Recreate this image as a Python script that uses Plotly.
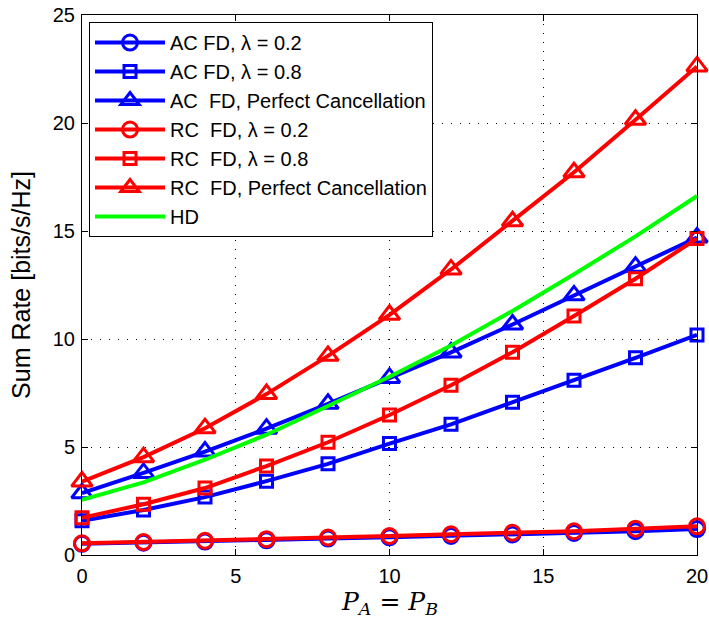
import plotly.graph_objects as go

# Transmit power (P_A = P_B)
power = [0, 2, 4, 6, 8, 10, 12, 14, 16, 18, 20]

# Sum rates [bits/s/Hz]
ac_fd_02 = [0.52, 0.57, 0.62, 0.68, 0.76, 0.82, 0.88, 0.95, 1.02, 1.10, 1.20]
ac_fd_08 = [1.58, 2.08, 2.68, 3.42, 4.22, 5.16, 6.05, 7.07, 8.09, 9.13, 10.19]
ac_fd_perfect = [2.86, 3.80, 4.79, 5.85, 7.00, 8.20, 9.38, 10.67, 12.02, 13.35, 14.70]
rc_fd_02 = [0.54, 0.60, 0.66, 0.73, 0.81, 0.88, 0.96, 1.03, 1.10, 1.22, 1.33]
rc_fd_08 = [1.72, 2.35, 3.10, 4.12, 5.22, 6.48, 7.86, 9.39, 11.06, 12.79, 14.65]
rc_fd_perfect = [3.40, 4.53, 5.87, 7.45, 9.22, 11.12, 13.22, 15.45, 17.72, 20.15, 22.62]
hd = [2.55, 3.36, 4.41, 5.57, 6.90, 8.25, 9.70, 11.30, 13.00, 14.75, 16.62]

xticks = [0, 5, 10, 15, 20]
yticks = [0, 5, 10, 15, 20, 25]

BLUE = "#0000FF"
RED = "#FF0000"
GREEN = "#00FF00"
FONT = "Liberation Sans, Arial, Helvetica, sans-serif"
SERIF = "DejaVu Serif, Liberation Serif, serif"

series = [
    ("AC FD, \u03bb = 0.2", ac_fd_02, BLUE, "circle-open", 15),
    ("AC FD, \u03bb = 0.8", ac_fd_08, BLUE, "square-open", 12),
    ("AC\u00a0 FD, Perfect Cancellation", ac_fd_perfect, BLUE, "triangle-up-open", 18),
    ("RC\u00a0 FD, \u03bb = 0.2", rc_fd_02, RED, "circle-open", 15),
    ("RC\u00a0 FD, \u03bb = 0.8", rc_fd_08, RED, "square-open", 12),
    ("RC\u00a0 FD, Perfect Cancellation", rc_fd_perfect, RED, "triangle-up-open", 18),
]

fig = go.Figure()
for name, vals, color, symbol, size in series:
    fig.add_trace(go.Scatter(
        x=power, y=vals, name=name, mode="lines+markers",
        line=dict(color=color, width=4),
        marker=dict(symbol=symbol, size=size, color=color,
                    line=dict(color=color, width=3)),
        cliponaxis=False,
    ))

fig.add_trace(go.Scatter(
    x=power, y=hd, name="HD", mode="lines",
    line=dict(color=GREEN, width=4),
    cliponaxis=False,
))

axis_common = dict(
    showline=True, linecolor="black", linewidth=1, mirror="ticks",
    ticks="inside", ticklen=6, tickcolor="black", tickwidth=1,
    showgrid=True, gridcolor="black", gridwidth=1, griddash="1px,8px",
    zeroline=False, automargin=False,
    tickfont=dict(family=FONT, size=20, color="black"),
)

fig.update_xaxes(
    range=[0, 20], tickvals=xticks, ticktext=[str(v) for v in xticks],
    ticklabelstandoff=3,
    **axis_common,
)
fig.update_yaxes(
    range=[0, 25], tickvals=yticks, ticktext=[str(v) for v in yticks],
    ticklabelstandoff=2,
    title=dict(
        text="Sum Rate [bits/s/Hz]",
        font=dict(family=FONT, size=25, color="black"),
    ),
    **axis_common,
)

# x-axis label set as a paper-anchored annotation below the tick labels
fig.add_annotation(
    x=0.5, y=-0.12, xref="paper", yref="paper",
    xanchor="center", yanchor="bottom", showarrow=False,
    text="<i>P</i><sub><i>A</i></sub>\u00a0=\u00a0<i>P</i><sub><i>B</i></sub>",
    font=dict(family=SERIF, size=25, color="black"),
    borderpad=0,
)

fig.update_layout(
    width=709, height=620,
    margin=dict(l=82, r=12, t=15, b=65, autoexpand=False),
    paper_bgcolor="white", plot_bgcolor="white",
    font=dict(family=FONT, color="black"),
    legend=dict(
        x=0.0114, y=0.987, xanchor="left", yanchor="top",
        bgcolor="white", bordercolor="black", borderwidth=1,
        font=dict(family=FONT, size=20, color="black"),
        itemwidth=70, tracegroupgap=0,
    ),
    showlegend=True,
)

fig.write_html("out.html")
